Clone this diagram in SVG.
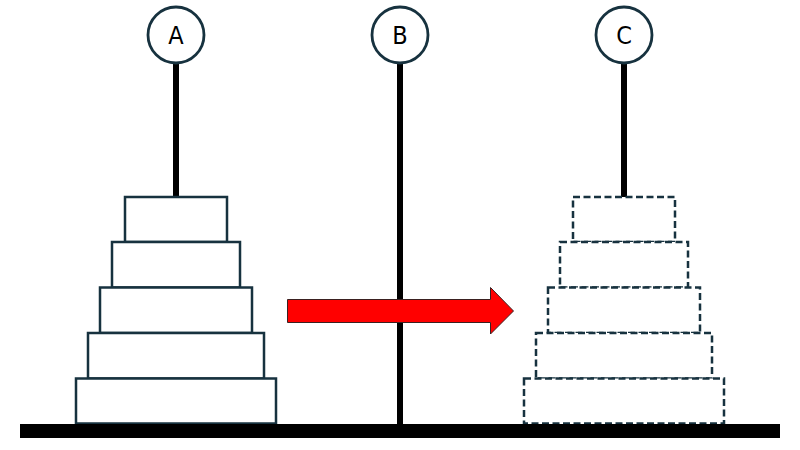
<svg xmlns="http://www.w3.org/2000/svg" width="800" height="450" viewBox="0 0 800 450">
<style>
.label{font-family:"Liberation Sans Narrow","DejaVu Sans Condensed","Liberation Sans",sans-serif;font-size:25px;fill:#000;text-anchor:middle}
.peg{fill:#fff;stroke:#17323f;stroke-width:2.8}
.pole{stroke:#000;stroke-width:6}
.disk{fill:#fff;stroke:#17323f;stroke-width:2.5}
.ghost{fill:#fff;stroke:#17323f;stroke-width:2.5;stroke-dasharray:7 3.5}
</style>
<rect width="800" height="450" fill="#fff"/>
<g id="poles">
<line class="pole" x1="176" y1="62" x2="176" y2="198"/>
<line class="pole" x1="400" y1="62" x2="400" y2="425"/>
<line class="pole" x1="624" y1="62" x2="624" y2="198"/>
</g>
<g id="peg-A"><circle class="peg" cx="176" cy="35" r="28"/><text class="label" x="176" y="44">A</text></g>
<g id="peg-B"><circle class="peg" cx="400" cy="35" r="28"/><text class="label" x="400" y="44">B</text></g>
<g id="peg-C"><circle class="peg" cx="624" cy="35" r="28"/><text class="label" x="624" y="44">C</text></g>
<g id="stack-A">
<rect class="disk" x="125" y="197" width="102" height="45"/>
<rect class="disk" x="112" y="242" width="128" height="45.5"/>
<rect class="disk" x="100" y="287.5" width="152" height="45.5"/>
<rect class="disk" x="88" y="333" width="176" height="45.5"/>
<rect class="disk" x="76" y="378.5" width="200" height="45"/>
</g>
<g id="stack-C">
<rect class="ghost" x="573" y="197" width="102" height="45"/>
<rect class="ghost" x="560" y="242" width="128" height="45.5"/>
<rect class="ghost" x="548" y="287.5" width="152" height="45.5"/>
<rect class="ghost" x="536" y="333" width="176" height="45.5"/>
<rect class="ghost" x="524" y="378.5" width="200" height="45"/>
</g>
<g id="base"><rect x="20" y="424" width="760" height="14" fill="#000"/></g>
<g id="connectors">
<polygon points="287.5,299.5 490.5,299.5 490.5,287.5 513.5,311 490.5,334 490.5,322.5 287.5,322.5" fill="#ff0000" stroke="#3a2020" stroke-width="1"/>
</g>
</svg>
